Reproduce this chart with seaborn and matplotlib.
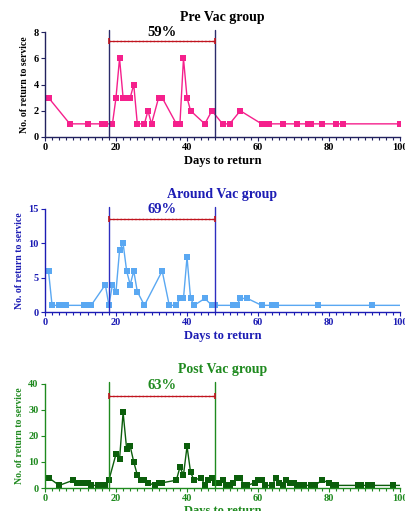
import matplotlib
matplotlib.use('Agg')
import matplotlib.pyplot as plt
from matplotlib.ticker import MultipleLocator
import seaborn as sns
import pandas as pd

# data
pre_days = [1, 7, 12, 16, 17, 19, 20, 21, 22, 23, 24, 25, 26, 28, 29, 30, 32, 33, 37, 38, 39, 40, 41,
            45, 47, 50, 52, 55, 61, 62, 63, 67, 71, 74, 75, 78, 82, 84, 100]
pre_count = [3, 1, 1, 1, 1, 1, 3, 6, 3, 3, 3, 4, 1, 1, 2, 1, 3, 3, 1, 1, 6, 3, 2,
             1, 2, 1, 1, 2, 1, 1, 1, 1, 1, 1, 1, 1, 1, 1, 1]

around_days = [1, 2, 4, 5, 6, 11, 12, 13, 17, 18, 19, 20, 21, 22, 23, 24, 25, 26, 28, 33, 35, 37,
               38, 39, 40, 41, 42, 45, 47, 48, 53, 54, 55, 57, 61, 64, 65, 77, 92, 102]
around_count = [6, 1, 1, 1, 1, 1, 1, 1, 4, 1, 4, 3, 9, 10, 6, 4, 6, 3, 1, 6, 1, 1,
                2, 2, 8, 2, 1, 2, 1, 1, 1, 1, 2, 2, 1, 1, 1, 1, 1, 1]

post_days = [1, 4, 8, 9, 10, 11, 12, 13, 15, 16, 17, 18, 20, 21, 22, 23, 24, 25, 26, 27, 28, 29,
             31, 32, 33, 37, 38, 39, 40, 41, 42, 44, 45, 46, 47, 48, 49, 50, 51, 52, 53, 54, 55,
             56, 57, 59, 60, 61, 62, 64, 65, 66, 67, 68, 69, 70, 71, 72, 73, 75, 76, 78, 80, 81,
             82, 88, 89, 91, 92, 98, 102]
post_count = [4, 1, 3, 2, 2, 2, 2, 1, 1, 1, 1, 3, 13, 11, 29, 15, 16, 10, 5, 3, 3, 2,
              1, 2, 2, 3, 8, 5, 16, 6, 3, 4, 1, 3, 4, 2, 2, 3, 1, 1, 2, 4, 4,
              1, 1, 2, 3, 3, 1, 1, 4, 2, 1, 3, 2, 2, 1, 1, 1, 1, 1, 3, 2, 1,
              1, 1, 1, 1, 1, 1, 1]

titles = ['Pre Vac group', 'Around Vac group', 'Post Vac group']
percents = ['59%', '69%', '63%']
window = [18, 48]

sns.set_style('ticks')
plt.rcParams['font.family'] = ['Liberation Serif', 'DejaVu Serif']
plt.rcParams['font.weight'] = 'bold'

fig = plt.figure(figsize=(4.05, 5.11), dpi=100)

panels = [
    dict(days=pre_days, count=pre_count, line='#f5208c', axis='#22225e', text='black',
         vline='#2b2b6b', ymax=8, ystep=2, bar=7.3, txt=7.5, pos=[0.111, 0.732, 0.877, 0.205]),
    dict(days=around_days, count=around_count, line='#5aa8f2', axis='#1c1cb4', text='#1c1cb4',
         vline='#2e2ec0', ymax=15, ystep=5, bar=13.5, txt=14.0, pos=[0.111, 0.389, 0.877, 0.202]),
    dict(days=post_days, count=post_count, line='#0b5e0b', axis='#1f8a1f', text='#1f8a1f',
         vline='#1f8a1f', ymax=40, ystep=10, bar=35.4, txt=37.0, pos=[0.111, 0.045, 0.877, 0.204]),
]

for i, p in enumerate(panels):
    ax = fig.add_axes(p['pos'])
    df = pd.DataFrame({'day': p['days'], 'n': p['count']})
    sns.lineplot(data=df, x='day', y='n', ax=ax, color=p['line'], marker='s',
                 markersize=5, markeredgewidth=0, linewidth=1.0)
    ax.set_xlim(0, 100)
    ax.set_ylim(0, p['ymax'])
    ax.xaxis.set_major_locator(MultipleLocator(20))
    ax.xaxis.set_minor_locator(MultipleLocator(2))
    ax.yaxis.set_major_locator(MultipleLocator(p['ystep']))
    sns.despine(ax=ax)
    for s in ['left', 'bottom']:
        ax.spines[s].set_color(p['axis'])
        ax.spines[s].set_linewidth(1.0)
    ax.tick_params(axis='both', which='both', colors=p['axis'], labelcolor=p['text'],
                   labelsize=7.5, width=0.8, pad=1.5)
    ax.tick_params(which='major', length=3)
    ax.tick_params(which='minor', length=2)
    for lab in ax.get_xticklabels() + ax.get_yticklabels():
        lab.set_fontweight('bold')

    for d in window:
        ax.axvline(d, ymin=0, ymax=1.02, color=p['vline'], linewidth=1.0, clip_on=False)
    ax.errorbar([sum(window) / 2], [p['bar']], xerr=[(window[1] - window[0]) / 2],
                fmt='none', ecolor='#c0141e', elinewidth=0.9, capsize=2.5, capthick=1.2,
                linestyle=':')
    ax.plot(window, [p['bar'], p['bar']], color='#c0141e', linestyle=':', linewidth=1.0)
    ax.text(33, p['txt'], percents[i], ha='center', va='bottom', fontsize=10.5,
            fontweight='bold', color=p['text'])

    ax.set_title(titles[i], fontsize=10, fontweight='bold', color=p['text'], pad=8)
    ax.set_xlabel('Days to return', fontsize=9, fontweight='bold', color=p['text'],
                  labelpad=1 if i == 2 else 2)
    ax.set_ylabel('No. of return to service', fontsize=7, fontweight='bold',
                  color=p['text'], labelpad=3)

fig.savefig('out.png', dpi=100)
